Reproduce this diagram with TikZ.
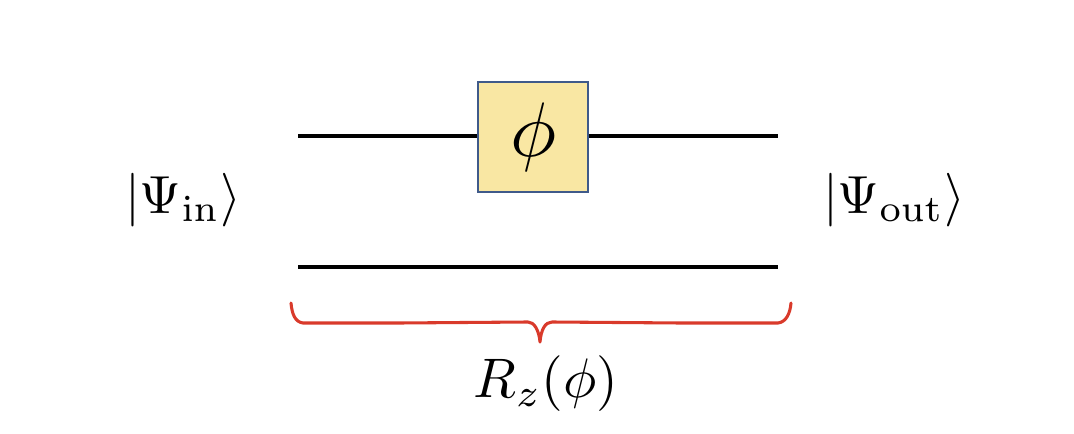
\documentclass[tikz,border=0pt]{standalone}
\usetikzlibrary{positioning}
\definecolor{boxfill}{HTML}{F9E7A3}
\definecolor{boxline}{HTML}{3F5A8A}
\definecolor{bracered}{HTML}{D93A2B}
\tikzset{
  wire/.style={line width=3pt,black},
  gatebox/.style={draw=boxline,fill=boxfill,line width=0.8pt,minimum width=82.5pt,minimum height=82.5pt,inner sep=0pt},
  statelabel/.style={inner sep=0pt,scale=4.02},
}
\begin{document}
\begin{tikzpicture}[x=0.75pt,y=-0.75pt]
\useasboundingbox (0,0) rectangle (1074,434);
\coordinate (top start) at (298,136);
\coordinate (top end) at (778,136);
\coordinate (bottom start) at (298,267);
\coordinate (bottom end) at (778,267);
\node[gatebox] (gate) at (533,137) {};
\node[scale=5.8] (phase) at (533.5,137) {$\phi$};
\draw[wire] (top start) -- (top start -| gate.west);
\draw[wire] (top end -| gate.east) -- (top end);
\draw[wire] (bottom start) -- (bottom end);
\node[statelabel] (in) at (183,200) {$|\Psi_{\mathrm{in}}\rangle$};
\node[statelabel] (out) at (894,200) {$|\Psi_{\mathrm{out}}\rangle$};
\coordinate (brace left) at (291,303);
\coordinate (brace right) at (791,303);
\coordinate (brace tip) at (540,342);
\draw[bracered,line width=2.3pt,line cap=round,line join=round] (brace left) .. controls (292,314) and (295,322) .. (303,323) -- (400,323) -- (528,322) .. controls (534,322) and (539,330) .. (brace tip) .. controls (541,330) and (545,322) .. (552,322) -- (680,323) -- (778,323) .. controls (786,322) and (790,314) .. (brace right);
\node[inner sep=0pt,scale=4.18] (rotation) at (546,384) {$R_z(\phi)$};
\end{tikzpicture}
\end{document}
